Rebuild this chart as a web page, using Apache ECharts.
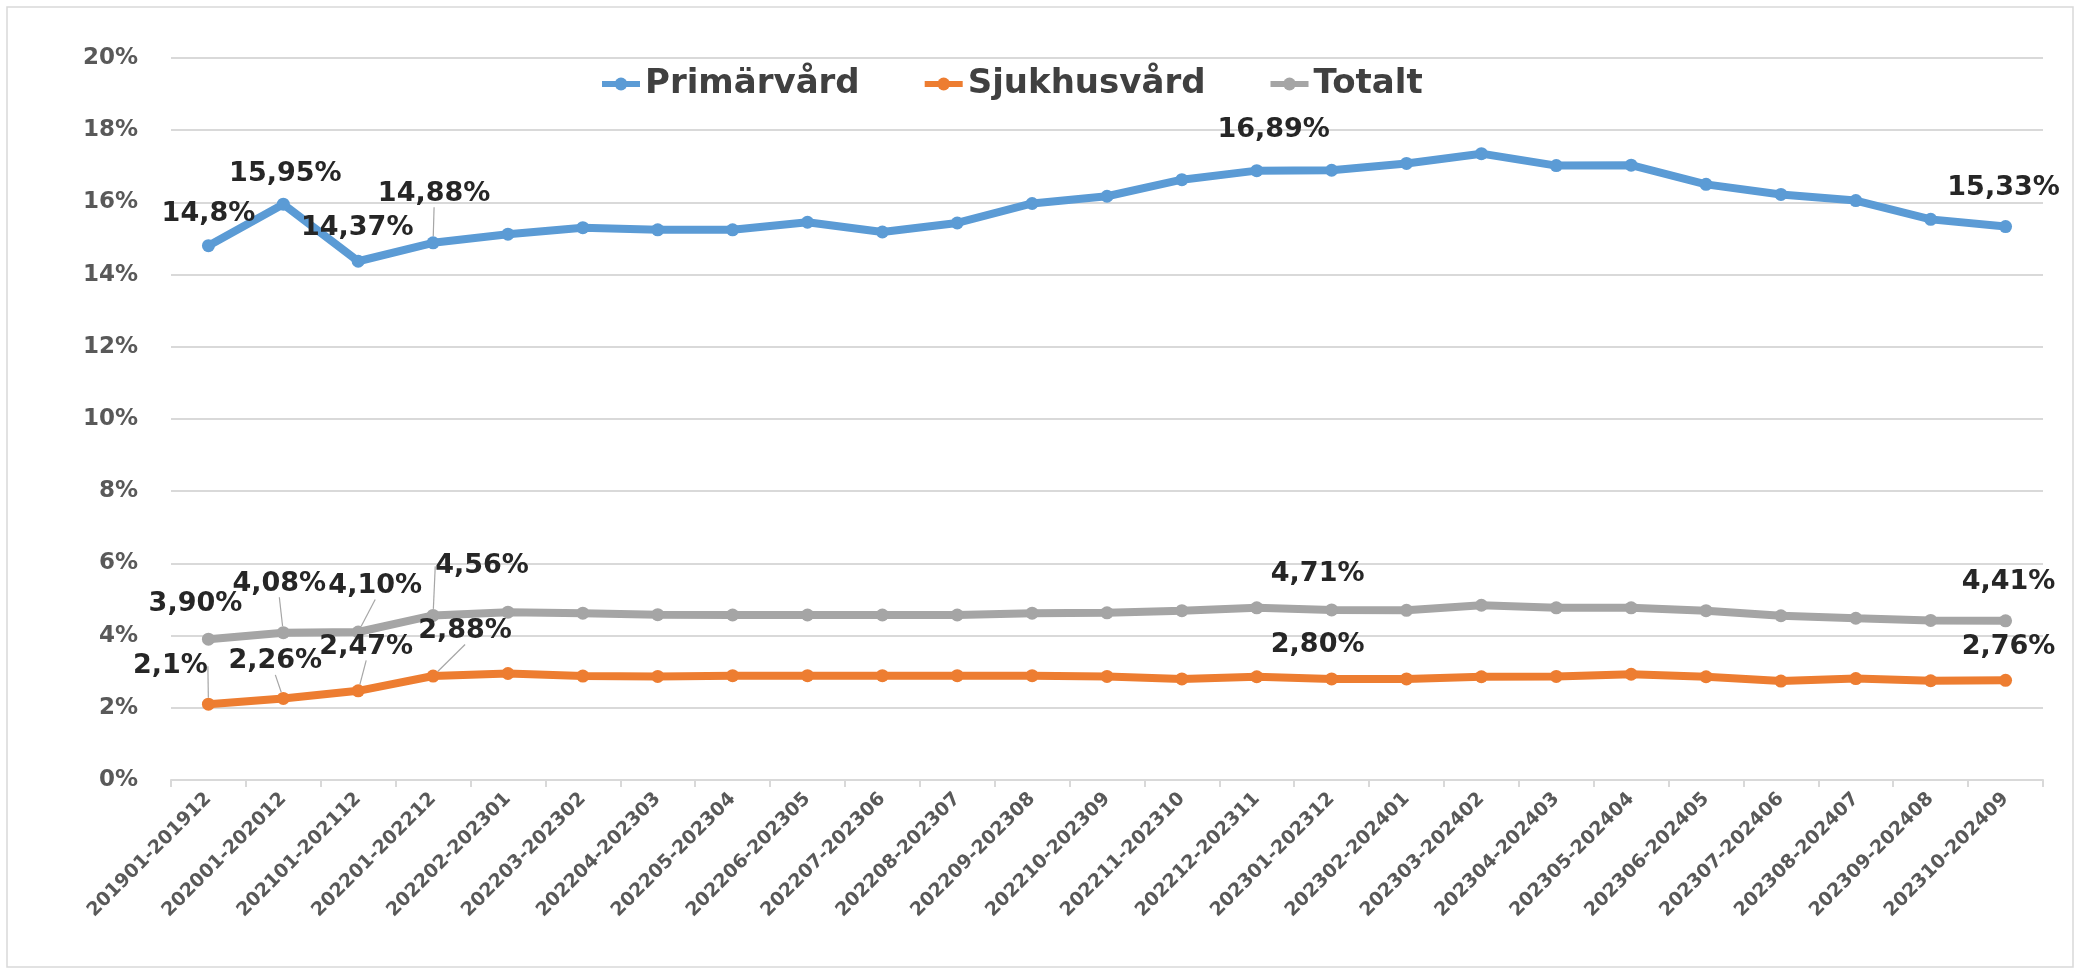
<!DOCTYPE html>
<html>
<head>
<meta charset="utf-8">
<script src="https://cdn.jsdelivr.net/npm/echarts@6/dist/echarts.min.js"></script>
<style>
  html, body { margin: 0; padding: 0; background: #fff; }
  #chart { width: 2085px; height: 974px; }
</style>
</head>
<body>
<div id="chart"></div>
<script>
var categories = [
    '201901-201912', '202001-202012', '202101-202112', '202201-202212', '202202-202301',
    '202203-202302', '202204-202303', '202205-202304', '202206-202305', '202207-202306',
    '202208-202307', '202209-202308', '202210-202309', '202211-202310', '202212-202311',
    '202301-202312', '202302-202401', '202303-202402', '202304-202403', '202305-202404',
    '202306-202405', '202307-202406', '202308-202407', '202309-202408', '202310-202409'
];
var primarvard = [14.8, 15.95, 14.37, 14.88, 15.12, 15.3, 15.24, 15.24, 15.45, 15.18, 15.43, 15.97, 16.17,
    16.63, 16.88, 16.89, 17.08, 17.35, 17.02, 17.03, 16.5, 16.22, 16.05, 15.53, 15.33];
var sjukhusvard = [2.1, 2.26, 2.47, 2.88, 2.95, 2.88, 2.87, 2.89, 2.89, 2.89, 2.89, 2.89, 2.87,
    2.8, 2.86, 2.8, 2.8, 2.86, 2.87, 2.93, 2.86, 2.74, 2.81, 2.75, 2.76];
var totalt = [3.9, 4.08, 4.1, 4.56, 4.65, 4.62, 4.58, 4.57, 4.57, 4.57, 4.57, 4.62, 4.63,
    4.69, 4.77, 4.71, 4.7, 4.84, 4.77, 4.77, 4.69, 4.55, 4.48, 4.42, 4.41];

// punkter som har etikett i originalet
var labelIdx = [0, 1, 2, 3, 15, 24];
var primLabels = ['14,8%', '15,95%', '14,37%', '14,88%', '16,89%', '15,33%'];
var sjukLabels = ['2,1%', '2,26%', '2,47%', '2,88%', '2,80%', '2,76%'];
var totLabels = ['3,90%', '4,08%', '4,10%', '4,56%', '4,71%', '4,41%'];

// etikettplacering (px från punkten) och om hjälplinje ritas
var primOff = [[0, -32], [2, -30], [-1, -33], [1, -49], [-58, -40], [-2, -39]];
var sjukOff = [[-38, -38], [-8, -37], [8, -44], [32, -45], [-14, -34], [3, -33]];
var totOff = [[-13, -35], [-4, -49], [17, -46], [49, -49], [-14, -36], [3, -39]];
var primLine = [0, 0, 0, 1, 0, 0];
var sjukLine = [1, 1, 1, 1, 0, 0];
var totLine = [0, 1, 1, 1, 0, 0];

var FONT = '"DejaVu Sans", sans-serif';

function buildData(values, texts, lines) {
    return values.map(function (v, i) {
        var k = labelIdx.indexOf(i);
        if (k < 0) return v;
        return {
            value: v,
            label: { show: true, formatter: texts[k] },
            labelLine: { show: !!lines[k] }
        };
    });
}

function makeSeries(name, color, values, texts, offs, lines) {
    return {
        name: name,
        type: 'line',
        data: buildData(values, texts, lines),
        symbol: 'circle',
        symbolSize: 13,
        lineStyle: { color: color, width: 8 },
        itemStyle: { color: color },
        label: {
            show: false,
            position: 'inside',
            fontFamily: FONT,
            fontWeight: 'bold',
            fontSize: 27,
            color: '#262626'
        },
        labelLine: { show: false, lineStyle: { color: '#a6a6a6', width: 1.2 } },
        labelLayout: function (p) {
            var k = labelIdx.indexOf(p.dataIndex);
            if (k < 0) return {};
            return { dx: offs[k][0], dy: offs[k][1] };
        }
    };
}

var myChart = echarts.init(document.getElementById('chart'));
myChart.setOption({
    animation: false,
    backgroundColor: '#fff',
    graphic: [{
        type: 'rect',
        shape: { x: 7, y: 7, width: 2066, height: 960 },
        style: { fill: 'none', stroke: '#d9d9d9', lineWidth: 1.5 },
        silent: true
    }],
    legend: {
        left: 594,
        top: 62,
        itemWidth: 38,
        itemHeight: 16,
        itemGap: 62,
        lineStyle: { width: 6 },
        textStyle: { fontFamily: FONT, fontWeight: 'bold', fontSize: 34, color: '#404040' },
        data: ['Primärvård', 'Sjukhusvård', 'Totalt']
    },
    grid: { left: 171, right: 42, top: 58, bottom: 194 },
    xAxis: {
        type: 'category',
        data: categories,
        boundaryGap: true,
        axisLine: { lineStyle: { color: '#d9d9d9', width: 2 } },
        axisTick: { show: true, length: 7, lineStyle: { color: '#d9d9d9', width: 2 } },
        axisLabel: {
            interval: 0,
            rotate: 45,
            margin: 16,
            fontFamily: FONT,
            fontWeight: 'bold',
            fontSize: 19,
            color: '#595959'
        }
    },
    yAxis: {
        type: 'value',
        min: 0,
        max: 20,
        interval: 2,
        axisLine: { show: false },
        axisTick: { show: false },
        splitLine: { lineStyle: { color: '#d9d9d9', width: 2 } },
        axisLabel: {
            formatter: '{value}%',
            margin: 33,
            fontFamily: FONT,
            fontWeight: 'bold',
            fontSize: 23,
            color: '#595959'
        }
    },
    series: [
        makeSeries('Primärvård', '#5B9BD5', primarvard, primLabels, primOff, primLine),
        makeSeries('Sjukhusvård', '#ED7D31', sjukhusvard, sjukLabels, sjukOff, sjukLine),
        makeSeries('Totalt', '#A5A5A5', totalt, totLabels, totOff, totLine)
    ]
});
</script>
</body>
</html>
